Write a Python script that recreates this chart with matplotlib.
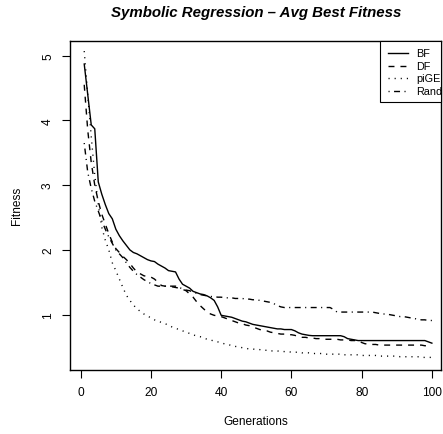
import matplotlib
matplotlib.use("Agg")
import matplotlib.pyplot as plt
from matplotlib.patches import Rectangle

plt.rcParams['font.family'] = ['Liberation Sans', 'DejaVu Sans']

# average best fitness per generation
gens = list(range(1, 101))

bf = [4.87, 4.40, 3.93, 3.87, 3.05, 2.86, 2.70, 2.56, 2.48, 2.32,
      2.22, 2.14, 2.07, 2.00, 1.96, 1.94, 1.91, 1.88, 1.85, 1.83,
      1.82, 1.78, 1.75, 1.72, 1.68, 1.67, 1.66, 1.55, 1.47, 1.44,
      1.41, 1.36, 1.34, 1.32, 1.31, 1.29, 1.26, 1.22, 1.12, 0.99,
      0.98, 0.97, 0.96, 0.94, 0.92, 0.90, 0.89, 0.87, 0.85, 0.84,
      0.83, 0.82, 0.81, 0.80, 0.79, 0.78, 0.78, 0.77, 0.77, 0.77,
      0.75, 0.72, 0.70, 0.69, 0.68, 0.675, 0.675, 0.675, 0.675, 0.675,
      0.675, 0.675, 0.675, 0.675, 0.66, 0.63, 0.62, 0.61, 0.60, 0.60,
      0.60, 0.60, 0.60, 0.60, 0.60, 0.60, 0.60, 0.60, 0.60, 0.60,
      0.60, 0.60, 0.60, 0.60, 0.60, 0.60, 0.60, 0.60, 0.58, 0.56]

df = [4.55, 3.85, 3.35, 3.00, 2.75, 2.55, 2.40, 2.25, 2.12, 2.02,
      1.96, 1.90, 1.85, 1.79, 1.72, 1.66, 1.63, 1.60, 1.59, 1.58,
      1.55, 1.50, 1.45, 1.44, 1.44, 1.43, 1.42, 1.41, 1.39, 1.37,
      1.32, 1.27, 1.20, 1.14, 1.09, 1.04, 1.01, 0.99, 0.98, 0.97,
      0.95, 0.93, 0.91, 0.89, 0.87, 0.86, 0.84, 0.83, 0.81, 0.79,
      0.77, 0.76, 0.75, 0.73, 0.72, 0.71, 0.70, 0.70, 0.69, 0.69,
      0.68, 0.66, 0.65, 0.65, 0.64, 0.64, 0.63, 0.63, 0.62, 0.62,
      0.62, 0.62, 0.62, 0.61, 0.61, 0.61, 0.60, 0.60, 0.60, 0.57,
      0.55, 0.55, 0.54, 0.54, 0.53, 0.53, 0.53, 0.53, 0.53, 0.53,
      0.53, 0.53, 0.53, 0.53, 0.53, 0.53, 0.53, 0.52, 0.52, 0.52]

pige = [5.07, 4.40, 3.75, 3.15, 2.70, 2.35, 2.15, 2.00, 1.80, 1.68,
        1.55, 1.42, 1.30, 1.22, 1.15, 1.09, 1.05, 1.01, 0.98, 0.95,
        0.92, 0.90, 0.88, 0.86, 0.84, 0.81, 0.79, 0.77, 0.75, 0.73,
        0.71, 0.69, 0.67, 0.66, 0.64, 0.62, 0.61, 0.59, 0.58, 0.56,
        0.55, 0.54, 0.52, 0.51, 0.50, 0.49, 0.48, 0.47, 0.47, 0.46,
        0.46, 0.45, 0.45, 0.44, 0.44, 0.44, 0.43, 0.43, 0.43, 0.42,
        0.42, 0.42, 0.41, 0.41, 0.41, 0.40, 0.40, 0.40, 0.40, 0.39,
        0.39, 0.39, 0.39, 0.39, 0.38, 0.38, 0.38, 0.38, 0.38, 0.37,
        0.37, 0.37, 0.37, 0.37, 0.36, 0.36, 0.36, 0.36, 0.36, 0.36,
        0.35, 0.35, 0.35, 0.35, 0.35, 0.35, 0.34, 0.34, 0.34, 0.34]

rand = [3.65, 3.20, 2.95, 2.75, 2.60, 2.45, 2.32, 2.20, 2.10, 2.00,
        1.94, 1.88, 1.80, 1.73, 1.67, 1.62, 1.58, 1.54, 1.51, 1.48,
        1.46, 1.44, 1.44, 1.44, 1.44, 1.44, 1.44, 1.42, 1.40, 1.38,
        1.37, 1.35, 1.33, 1.31, 1.30, 1.29, 1.28, 1.28, 1.27, 1.27,
        1.26, 1.26, 1.26, 1.25, 1.25, 1.25, 1.24, 1.24, 1.23, 1.23,
        1.22, 1.21, 1.20, 1.19, 1.17, 1.14, 1.12, 1.11, 1.11, 1.11,
        1.11, 1.11, 1.11, 1.11, 1.11, 1.11, 1.11, 1.11, 1.11, 1.11,
        1.11, 1.08, 1.04, 1.04, 1.04, 1.04, 1.04, 1.04, 1.04, 1.04,
        1.04, 1.04, 1.04, 1.03, 1.02, 1.01, 1.01, 1.00, 0.99, 0.98,
        0.97, 0.97, 0.96, 0.95, 0.94, 0.93, 0.92, 0.92, 0.91, 0.91]

names = ["BF", "DF", "piGE", "Rand"]
values = [bf, df, pige, rand]
dashes = [None, (4.3, 4.3), (0.8, 3.6), (0.8, 3.2, 4.3, 3.2)]

W, H = 443, 435
fig = plt.figure(figsize=(W/100, H/100), dpi=100)
# plot region in pixels: x 70..441, y 42..370.7 (from top)
L, R, T, B = 70, 441, 42, 370.7
ax = fig.add_axes([L/W, 1-B/H, (R-L)/W, (B-T)/H])

for name, vals, d in zip(names, values, dashes):
    line, = ax.plot(gens, vals, color="black", lw=1.0, label=name)
    if d is not None:
        line.set_dashes(d)

ax.set_xlim(-3.05, 102.6)
ax.set_ylim(0.15, 5.226)
ax.set_xticks([0, 20, 40, 60, 80, 100])
ax.set_yticks([1, 2, 3, 4, 5])
ax.tick_params(direction="out", length=5.5, width=0.8, labelsize=8.6, pad=6)
for lab in ax.get_yticklabels():
    lab.set_rotation(90)
    lab.set_va("center")
for sp in ax.spines.values():
    sp.set_linewidth(1.0)

# R-style legend box in the top right corner, text allowed to run past it
def px(x, y):
    return ((x-L)/(R-L), (B-y)/(B-T))

x0, y0 = px(380, 103)
ax.add_patch(Rectangle((x0, y0), 1-x0, 1-y0, transform=ax.transAxes,
                       fill=True, facecolor="white", edgecolor="black",
                       lw=0.8, zorder=5, clip_on=False))
row_y = [54, 66.6, 79.1, 91.7]
for name, d, yy in zip(names, dashes, row_y):
    xa, ya = px(388, yy)
    xb, _ = px(408, yy)
    ln, = ax.plot([xa, xb], [ya, ya], transform=ax.transAxes, color="black",
                  lw=1.0, zorder=6, clip_on=False)
    if d is not None:
        ln.set_dashes(d)
    xt, _ = px(416.5, yy)
    ax.text(xt, ya, name, transform=ax.transAxes, fontsize=7.8,
            ha="left", va="center", zorder=6)

fig.text(256/W, 1-13/H, "Symbolic Regression \u2013 Avg Best Fitness",
         ha="center", va="center", fontsize=10.8, fontweight="bold", style="italic")
fig.text(256/W, 1-422/H, "Generations", ha="center", va="center", fontsize=8.6)
fig.text(17/W, 1-206/H, "Fitness", ha="center", va="center", fontsize=8.6, rotation=90)

fig.savefig("out.png", dpi=100)
